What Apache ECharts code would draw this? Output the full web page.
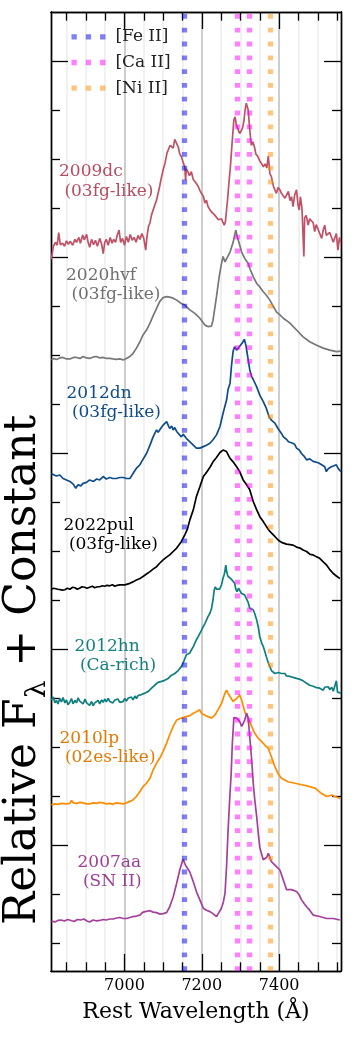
<!DOCTYPE html>
<html><head><meta charset="utf-8">
<script src="https://cdn.jsdelivr.net/npm/echarts@6/dist/echarts.min.js"></script>
<style>html,body{margin:0;padding:0;background:#fff}#c{width:354px;height:1041px}</style>
</head><body><div id="c"></div>
<script>
// ---------- axes ----------
const xMin = 6810, xMax = 7560;
const xMajorTicks = [7000, 7200, 7400];
const xMinorTicks = [6850, 6900, 6950, 7050, 7100, 7150, 7250, 7300, 7350, 7450, 7500, 7550];
const yMin = -2.5714, yMax = 17;
const yMajorTicks = [0, 4, 8, 12, 16];
const yMinorTicks = [-2, -1, 1, 2, 3, 5, 6, 7, 9, 10, 11, 13, 14, 15];

// ---------- line identifications (Å) ----------
const feII = [7155];
const caII = [7291, 7324];
const niII = [7378];

// ---------- spectra: [wavelength Å, relative flux + constant] ----------
const spec2009dc = [[6811,11.95],[6816,12.22],[6822,12.30],[6826,12.24],[6830,12.50],[6834,12.25],[6840,12.28],[6845,12.22],[6850,12.33],[6855,12.26],[6860,12.32],[6866,12.24],[6872,12.36],[6876,12.30],[6882,12.40],[6886,12.28],[6892,12.45],[6896,12.35],[6902,12.46],[6906,12.30],[6910,12.20],[6915,12.36],[6920,12.25],[6925,12.34],[6930,12.22],[6936,12.38],[6941,12.26],[6945,12.07],[6949,12.30],[6953,12.36],[6958,12.24],[6963,12.40],[6968,12.28],[6972,12.36],[6977,12.30],[6981,12.44],[6986,12.55],[6990,12.30],[6995,12.38],[7000,12.24],[7005,12.42],[7010,12.30],[7015,12.46],[7020,12.34],[7025,12.40],[7030,12.30],[7035,12.44],[7040,12.36],[7045,12.48],[7050,12.38],[7055,12.14],[7058,12.40],[7062,12.62],[7066,12.70],[7070,12.86],[7074,12.90],[7078,13.05],[7083,13.16],[7087,13.30],[7091,13.44],[7095,13.60],[7100,13.78],[7105,13.92],[7110,14.12],[7114,14.20],[7118,14.28],[7122,14.32],[7126,14.22],[7130,14.40],[7133,14.44],[7136,14.30],[7139,14.25],[7143,14.10],[7147,14.05],[7150,14.01],[7153,13.90],[7156,13.84],[7158,13.57],[7160,13.80],[7164,13.74],[7168,13.66],[7173,13.74],[7178,13.58],[7182,13.62],[7186,13.50],[7190,13.45],[7195,13.36],[7199,13.30],[7204,13.24],[7208,13.10],[7212,13.16],[7216,13.03],[7220,12.98],[7225,12.92],[7229,12.96],[7233,12.86],[7238,12.82],[7243,12.76],[7247,12.72],[7251,12.78],[7255,12.70],[7258,12.65],[7261,12.72],[7264,12.96],[7267,13.20],[7270,13.50],[7274,13.85],[7277,14.18],[7280,14.50],[7283,14.80],[7286,14.86],[7289,14.72],[7291,14.66],[7295,14.58],[7298,14.52],[7301,14.55],[7305,14.62],[7309,14.78],[7312,15.00],[7315,15.14],[7317,15.17],[7320,15.00],[7323,14.70],[7325,14.52],[7328,14.28],[7332,14.35],[7336,14.25],[7340,14.10],[7345,14.05],[7350,13.96],[7355,13.90],[7359,13.84],[7364,13.90],[7368,13.82],[7372,14.06],[7376,13.70],[7380,13.64],[7385,13.45],[7389,13.37],[7393,13.30],[7397,13.42],[7402,13.37],[7406,13.30],[7411,13.32],[7415,13.20],[7419,13.23],[7424,13.34],[7428,13.15],[7432,13.23],[7436,13.03],[7440,13.26],[7445,13.37],[7449,13.05],[7452,12.96],[7455,13.23],[7459,13.00],[7462,12.96],[7464,12.01],[7466,12.80],[7470,12.85],[7475,12.65],[7479,12.78],[7484,12.82],[7488,12.70],[7492,12.52],[7496,12.66],[7501,12.62],[7505,12.48],[7510,12.38],[7514,12.55],[7518,12.65],[7522,12.44],[7527,12.41],[7531,12.50],[7536,12.52],[7540,12.30],[7544,12.28],[7548,12.48],[7552,12.14],[7556,12.40],[7559,12.30]];

const spec2020hvf = [[6811,9.90],[6818,9.93],[6824,9.91],[6833,9.94],[6841,9.95],[6850,9.92],[6859,9.92],[6868,9.95],[6876,9.95],[6885,9.93],[6893,9.97],[6902,9.94],[6910,9.93],[6920,9.96],[6928,9.97],[6936,9.94],[6945,9.95],[6953,9.93],[6962,9.93],[6970,9.92],[6979,9.91],[6988,9.92],[6997,9.90],[7005,9.93],[7014,9.97],[7022,10.03],[7031,10.14],[7040,10.27],[7048,10.41],[7057,10.51],[7066,10.65],[7074,10.80],[7083,10.95],[7091,11.09],[7100,11.17],[7109,11.19],[7113,11.16],[7117,11.18],[7122,11.15],[7126,11.16],[7135,11.12],[7147,11.05],[7156,11.02],[7169,10.92],[7182,10.85],[7195,10.75],[7208,10.61],[7216,10.58],[7225,10.59],[7229,10.71],[7238,11.19],[7245,11.60],[7251,11.87],[7255,12.01],[7260,11.90],[7264,11.92],[7273,12.10],[7281,12.30],[7285,12.45],[7288,12.55],[7292,12.40],[7296,12.30],[7303,12.10],[7311,11.97],[7320,11.87],[7324,11.77],[7333,11.60],[7342,11.46],[7350,11.39],[7359,11.29],[7367,11.22],[7376,11.12],[7385,10.99],[7393,10.88],[7402,10.82],[7411,10.75],[7428,10.65],[7445,10.51],[7462,10.37],[7479,10.27],[7497,10.20],[7514,10.14],[7531,10.10],[7548,10.07],[7560,10.08]];

const spec2012dn = [[6811,7.58],[6818,7.55],[6824,7.53],[6833,7.55],[6841,7.48],[6850,7.45],[6859,7.42],[6868,7.36],[6874,7.28],[6880,7.35],[6887,7.33],[6893,7.38],[6902,7.40],[6910,7.45],[6920,7.42],[6928,7.47],[6936,7.45],[6945,7.52],[6953,7.47],[6962,7.50],[6970,7.48],[6979,7.48],[6988,7.50],[6997,7.50],[7005,7.48],[7014,7.48],[7022,7.58],[7031,7.69],[7040,7.76],[7044,7.82],[7057,7.99],[7066,8.16],[7074,8.33],[7083,8.47],[7087,8.42],[7091,8.47],[7100,8.57],[7109,8.64],[7113,8.57],[7117,8.50],[7122,8.55],[7126,8.47],[7130,8.52],[7135,8.44],[7140,8.48],[7147,8.33],[7152,8.38],[7156,8.40],[7160,8.30],[7165,8.27],[7170,8.22],[7178,8.16],[7186,8.10],[7195,8.10],[7204,8.13],[7212,8.16],[7221,8.20],[7229,8.27],[7238,8.37],[7247,8.54],[7255,8.81],[7264,9.08],[7268,9.30],[7273,9.42],[7277,9.80],[7281,10.08],[7285,10.17],[7290,10.10],[7294,10.14],[7300,10.20],[7305,10.25],[7310,10.32],[7314,10.20],[7320,9.90],[7324,9.70],[7329,9.56],[7333,9.50],[7342,9.35],[7350,9.18],[7359,9.05],[7367,8.91],[7374,8.74],[7380,8.67],[7389,8.61],[7397,8.50],[7406,8.40],[7411,8.33],[7419,8.28],[7424,8.23],[7432,8.21],[7440,8.18],[7445,8.10],[7452,8.06],[7458,7.99],[7466,7.92],[7471,7.86],[7479,7.88],[7488,7.83],[7493,7.79],[7501,7.80],[7510,7.76],[7518,7.72],[7522,7.62],[7527,7.68],[7535,7.72],[7540,7.74],[7548,7.76],[7553,7.68],[7560,7.62]];

const spec2022pul = [[6811,5.22],[6817,5.24],[6822,5.25],[6828,5.22],[6833,5.24],[6840,5.20],[6846,5.21],[6852,5.24],[6859,5.22],[6866,5.26],[6872,5.25],[6878,5.22],[6884,5.24],[6890,5.27],[6897,5.26],[6903,5.24],[6910,5.26],[6917,5.28],[6923,5.25],[6930,5.27],[6936,5.27],[6943,5.29],[6949,5.28],[6955,5.30],[6962,5.29],[6969,5.31],[6975,5.28],[6981,5.30],[6988,5.31],[7001,5.31],[7014,5.34],[7022,5.37],[7031,5.41],[7040,5.44],[7048,5.48],[7057,5.53],[7066,5.58],[7074,5.63],[7083,5.68],[7091,5.75],[7100,5.82],[7108,5.87],[7117,5.92],[7126,5.99],[7135,6.06],[7147,6.19],[7156,6.33],[7162,6.43],[7169,6.63],[7178,6.84],[7186,7.11],[7195,7.31],[7204,7.52],[7210,7.58],[7216,7.65],[7222,7.72],[7229,7.82],[7238,7.91],[7247,8.01],[7255,8.06],[7260,8.08],[7264,8.03],[7268,8.06],[7273,7.89],[7281,7.82],[7290,7.72],[7298,7.62],[7307,7.45],[7316,7.35],[7324,7.25],[7333,7.01],[7342,6.84],[7350,6.70],[7359,6.60],[7367,6.50],[7376,6.40],[7385,6.33],[7398,6.22],[7408,6.17],[7419,6.14],[7428,6.13],[7436,6.12],[7445,6.08],[7454,6.06],[7462,6.02],[7471,5.99],[7480,5.93],[7488,5.92],[7497,5.88],[7505,5.85],[7514,5.78],[7523,5.71],[7531,5.62],[7540,5.54],[7548,5.49],[7557,5.44]];

const spec2012hn = [[6811,2.96],[6816,3.02],[6820,2.90],[6824,2.95],[6828,2.88],[6833,2.99],[6837,2.92],[6841,3.01],[6846,2.90],[6850,2.96],[6854,2.86],[6859,2.92],[6863,2.99],[6867,2.88],[6872,2.95],[6876,2.90],[6880,3.00],[6885,2.93],[6889,2.97],[6893,2.88],[6898,2.98],[6902,2.90],[6906,2.94],[6910,2.85],[6915,2.93],[6919,2.84],[6923,2.90],[6928,2.86],[6932,2.95],[6936,2.88],[6941,2.96],[6945,2.91],[6949,2.98],[6953,2.92],[6958,2.99],[6962,2.93],[6966,2.97],[6970,2.90],[6975,2.96],[6979,2.92],[6983,2.98],[6988,2.91],[6992,2.95],[6997,2.93],[7001,2.99],[7005,2.94],[7010,3.00],[7014,2.96],[7018,3.02],[7022,2.96],[7027,3.04],[7031,2.99],[7035,3.05],[7040,3.01],[7044,3.07],[7048,3.03],[7053,3.10],[7057,3.06],[7061,3.13],[7066,3.12],[7070,3.20],[7074,3.18],[7078,3.26],[7083,3.24],[7087,3.32],[7091,3.28],[7096,3.34],[7100,3.30],[7104,3.36],[7108,3.32],[7113,3.40],[7117,3.38],[7121,3.46],[7126,3.44],[7130,3.50],[7135,3.52],[7139,3.56],[7143,3.58],[7147,3.64],[7152,3.72],[7156,3.80],[7160,3.88],[7164,3.86],[7169,3.92],[7173,3.98],[7178,4.05],[7182,4.12],[7186,4.19],[7190,4.24],[7195,4.32],[7199,4.38],[7204,4.46],[7208,4.52],[7212,4.59],[7216,4.66],[7221,4.73],[7225,4.82],[7229,5.00],[7232,5.20],[7235,5.27],[7238,5.22],[7242,5.26],[7246,5.22],[7251,5.31],[7255,5.45],[7258,5.52],[7260,5.60],[7262,5.71],[7265,5.55],[7268,5.48],[7272,5.52],[7277,5.42],[7281,5.38],[7285,5.34],[7288,5.22],[7291,5.17],[7295,5.24],[7298,5.20],[7302,5.14],[7307,5.17],[7311,5.10],[7316,5.07],[7320,4.95],[7324,4.83],[7328,4.86],[7333,4.80],[7337,4.72],[7342,4.59],[7346,4.45],[7350,4.25],[7355,4.12],[7359,4.05],[7363,3.95],[7367,3.84],[7372,3.72],[7376,3.64],[7380,3.56],[7385,3.52],[7389,3.50],[7393,3.48],[7398,3.52],[7402,3.48],[7406,3.50],[7411,3.46],[7415,3.50],[7419,3.45],[7424,3.49],[7428,3.44],[7432,3.48],[7436,3.42],[7441,3.46],[7445,3.40],[7449,3.44],[7454,3.38],[7458,3.42],[7462,3.35],[7467,3.38],[7471,3.30],[7475,3.34],[7479,3.26],[7484,3.30],[7488,3.24],[7492,3.28],[7497,3.21],[7501,3.25],[7505,3.20],[7510,3.24],[7514,3.16],[7518,3.22],[7523,3.18],[7527,3.23],[7531,3.17],[7536,3.22],[7540,3.14],[7544,3.18],[7548,3.35],[7551,3.12],[7555,3.16],[7560,3.10]];

const spec2010lp = [[6811,0.82],[6820,0.84],[6828,0.83],[6837,0.85],[6841,0.86],[6850,0.84],[6859,0.85],[6863,0.91],[6868,0.86],[6876,0.85],[6885,0.87],[6893,0.86],[6902,0.84],[6910,0.84],[6919,0.86],[6928,0.85],[6936,0.87],[6945,0.86],[6953,0.84],[6962,0.85],[6970,0.83],[6979,0.86],[6988,0.85],[6997,0.84],[7005,0.86],[7014,0.89],[7022,0.92],[7031,0.99],[7040,1.09],[7048,1.19],[7057,1.26],[7066,1.36],[7074,1.53],[7083,1.67],[7091,1.77],[7100,1.91],[7109,2.08],[7117,2.25],[7126,2.42],[7135,2.55],[7147,2.59],[7160,2.62],[7169,2.64],[7178,2.69],[7186,2.72],[7195,2.76],[7199,2.69],[7208,2.65],[7216,2.62],[7225,2.59],[7234,2.65],[7242,2.76],[7251,2.89],[7260,3.10],[7264,3.16],[7268,3.10],[7273,3.03],[7281,2.93],[7290,2.99],[7298,3.06],[7303,2.96],[7311,2.72],[7320,2.59],[7329,2.42],[7337,2.28],[7346,2.18],[7355,2.11],[7363,2.04],[7372,1.97],[7380,1.80],[7389,1.60],[7397,1.46],[7406,1.36],[7423,1.29],[7441,1.26],[7458,1.23],[7475,1.20],[7493,1.16],[7510,1.05],[7523,0.99],[7536,1.02],[7544,0.99],[7552,0.97],[7558,0.95]];

const spec2007aa = [[6811,-1.55],[6820,-1.57],[6828,-1.54],[6836,-1.53],[6845,-1.55],[6853,-1.52],[6862,-1.54],[6870,-1.56],[6878,-1.52],[6887,-1.53],[6895,-1.51],[6903,-1.55],[6910,-1.57],[6919,-1.53],[6928,-1.55],[6936,-1.54],[6945,-1.52],[6953,-1.53],[6962,-1.51],[6971,-1.51],[6980,-1.49],[6988,-1.48],[6997,-1.50],[7005,-1.50],[7014,-1.48],[7022,-1.46],[7031,-1.45],[7040,-1.43],[7046,-1.38],[7053,-1.36],[7060,-1.35],[7066,-1.34],[7074,-1.37],[7083,-1.38],[7091,-1.41],[7100,-1.40],[7109,-1.38],[7117,-1.26],[7126,-1.06],[7135,-0.78],[7143,-0.51],[7149,-0.35],[7152,-0.29],[7156,-0.38],[7160,-0.44],[7165,-0.50],[7169,-0.55],[7178,-0.75],[7186,-0.95],[7195,-1.12],[7204,-1.29],[7212,-1.33],[7221,-1.36],[7229,-1.40],[7238,-1.46],[7244,-1.38],[7250,-1.30],[7255,-1.19],[7260,-0.99],[7264,-0.44],[7268,0.30],[7272,0.92],[7276,1.46],[7279,2.08],[7283,2.60],[7290,2.59],[7298,2.52],[7303,2.42],[7307,2.48],[7311,2.55],[7316,2.69],[7320,2.59],[7324,2.21],[7329,1.74],[7333,1.26],[7337,0.92],[7342,0.58],[7346,0.24],[7350,-0.05],[7354,-0.17],[7359,-0.30],[7363,-0.34],[7368,-0.25],[7372,-0.17],[7376,-0.25],[7380,-0.34],[7393,-0.44],[7402,-0.51],[7411,-0.72],[7419,-0.91],[7432,-0.91],[7445,-0.95],[7452,-1.02],[7458,-1.12],[7465,-1.20],[7471,-1.26],[7479,-1.33],[7488,-1.43],[7505,-1.46],[7523,-1.50],[7540,-1.50],[7557,-1.53]];

const snNames = ['2009dc', '2020hvf', '2012dn', '2022pul', '2012hn', '2010lp', '2007aa'];
const snTypes = ['03fg-like', '03fg-like', '03fg-like', '03fg-like', 'Ca-rich', '02es-like', 'SN II'];
const snSpectra = [spec2009dc, spec2020hvf, spec2012dn, spec2022pul, spec2012hn, spec2010lp, spec2007aa];

// ---------- styles ----------
const FONT = 'DejaVu Serif';
const lineColors = ['#bf5266', '#777777', '#0f4c8a', '#000000', '#0d7f7f', '#ff8c00', '#a4409c'];
const textColors = ['#b84c61', '#707070', '#0f4c8a', '#000000', '#13807f', '#e07a00', '#9c3f95'];
const labelPos = [[59, 181.5], [66, 285], [66.5, 403.3], [63.5, 535], [74.5, 656.3], [59.5, 748], [77.5, 872.2]];
const idColors = { fe: 'rgba(0,0,232,0.5)', ca: 'rgba(255,0,255,0.5)', ni: 'rgba(255,140,0,0.5)' };

const chart = echarts.init(document.getElementById('c'), null, { renderer: 'canvas' });

function xAxisDef(pos, ticks, len, major) {
  return {
    type: 'value', min: xMin, max: xMax, position: pos,
    axisLine: { show: true, onZero: false, lineStyle: { color: '#000', width: 1.4 } },
    axisTick: { show: true, inside: true, length: len, customValues: ticks, lineStyle: { color: '#000', width: 1.3 } },
    axisLabel: (pos === 'bottom' && major) ? { show: true, customValues: ticks, formatter: v => String(v), fontFamily: FONT, fontSize: 16, color: '#000', margin: 7 } : { show: false },
    splitLine: pos === 'bottom' ? { show: true, lineStyle: { color: major ? '#bdbdbd' : '#ececec', width: 1.5 } } : { show: false },
    name: (pos === 'bottom' && major) ? 'Rest Wavelength (Å)' : '',
    nameLocation: 'middle', nameGap: 30,
    nameTextStyle: { fontFamily: FONT, fontSize: 22, color: '#000' }
  };
}
function yAxisDef(pos, ticks, len) {
  return {
    type: 'value', min: yMin, max: yMax, position: pos,
    axisLine: { show: true, onZero: false, lineStyle: { color: '#000', width: 1.4 } },
    axisTick: { show: true, inside: true, length: len, customValues: ticks, lineStyle: { color: '#000', width: 1.3 } },
    axisLabel: { show: false },
    splitLine: { show: false }
  };
}

const series = [];
snSpectra.forEach((d, i) => {
  series.push({
    type: 'line', name: snNames[i], data: d, xAxisIndex: 0, yAxisIndex: 0,
    showSymbol: false, symbol: 'none', silent: true, z: 2,
    lineStyle: { color: lineColors[i], width: 1.7 }
  });
});
function idSeries(name, vals, color) {
  return {
    type: 'line', name: name, data: [], color: color, xAxisIndex: 0, yAxisIndex: 0, z: 5,
    markLine: {
      silent: true, symbol: ['none', 'none'], label: { show: false }, animation: false,
      lineStyle: { type: [4.8, 9], width: 5.3, color: color, cap: 'butt', opacity: 1 },
      emphasis: { disabled: true },
      data: vals.map(v => ({ xAxis: v }))
    }
  };
}
series.push(idSeries('[Fe II]', feII, idColors.fe));
series.push(idSeries('[Ca II]', caII, idColors.ca));
series.push(idSeries('[Ni II]', niII, idColors.ni));

const graphics = snNames.map((n, i) => ({
  type: 'text', x: labelPos[i][0], y: labelPos[i][1], z: 10, silent: true,
  style: { text: n + '\n (' + snTypes[i] + ')', fill: textColors[i], font: '17px "' + FONT + '"', lineHeight: 19.5, align: 'left', verticalAlign: 'middle' }
}));
graphics.push({
  type: 'text', x: 23.5, y: 925, rotation: Math.PI / 2, silent: true,
  style: {
    text: 'Relative F{s|λ} + Constant', fill: '#000', font: '44px "' + FONT + '"', align: 'left', verticalAlign: 'middle',
    rich: { s: { fontFamily: FONT, fontSize: 28, verticalAlign: 'bottom', lineHeight: 56, fill: '#000' } }
  }
});

chart.setOption({
  animation: false,
  backgroundColor: '#fff',
  grid: { left: 51, right: 13, top: 12, bottom: 70, containLabel: false },
  legend: {
    data: ['[Fe II]', '[Ca II]', '[Ni II]'], orient: 'vertical', left: 66.5, top: 23.3,
    itemWidth: 33.9, itemHeight: 5.3, itemGap: 8.7, selectedMode: false,
    icon: 'path://M0,0h5.3v5.3h-5.3z M14.3,0h5.3v5.3h-5.3z M28.6,0h5.3v5.3h-5.3z',
    textStyle: { fontFamily: FONT, fontSize: 17, lineHeight: 17, color: '#222', padding: [0, 0, 0, 5] }
  },
  xAxis: [xAxisDef('bottom', xMajorTicks, 17, true), xAxisDef('bottom', xMinorTicks, 8.7, false), xAxisDef('top', xMajorTicks, 17, true), xAxisDef('top', xMinorTicks, 8.7, false)],
  yAxis: [yAxisDef('left', yMajorTicks, 17), yAxisDef('left', yMinorTicks, 9), yAxisDef('right', yMajorTicks, 17), yAxisDef('right', yMinorTicks, 9)],
  series: series,
  graphic: graphics
});
</script>
</body></html>
